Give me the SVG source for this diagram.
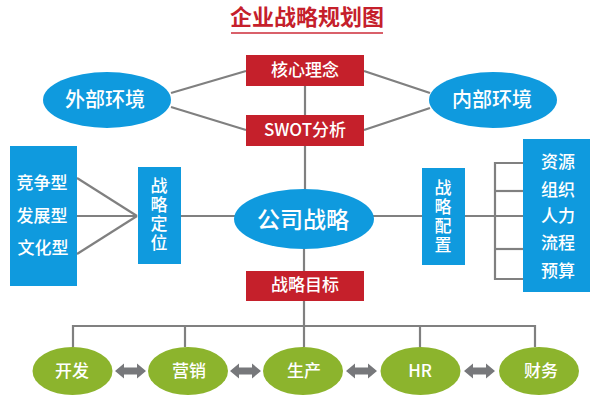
<svg xmlns="http://www.w3.org/2000/svg" width="600" height="400" viewBox="0 0 600 400">
<style>
text{font-family:"Noto Sans CJK SC","Liberation Sans",sans-serif;text-anchor:middle;fill:#fff}
.t{font-size:17px;font-weight:500}
.v{font-size:17px;font-weight:500;writing-mode:vertical-rl;letter-spacing:2px}
.e{font-size:20px;font-weight:500}
.s{font-size:17px;font-weight:500}
.red{fill:#c5202b}
.blue{fill:#0f9ade}
.green{fill:#8cb42d}
.c line,.c polyline{stroke:#808080;stroke-width:2.2;fill:none}
.a{fill:#77787b;stroke:none}
</style>
<defs><path id="dbl" class="a" d="M0 0l9-7.500v4h13v-4l9 7.500-9 7.500v-4H9v4z"/></defs>
<g class="c" id="connectors">
<line x1="171" y1="93" x2="246" y2="71"/>
<line x1="171" y1="107" x2="246" y2="130"/>
<line x1="364" y1="71" x2="430" y2="93"/>
<line x1="364" y1="130" x2="430" y2="108"/>
<line x1="305" y1="86" x2="305" y2="115"/>
<line x1="305" y1="146" x2="305" y2="190"/>
<line x1="304" y1="249" x2="304" y2="271"/>
<line x1="304" y1="301" x2="304" y2="347"/>
<line x1="77" y1="178" x2="137" y2="216"/>
<line x1="77" y1="216" x2="137" y2="216"/>
<line x1="77" y1="254" x2="137" y2="216"/>
<line x1="181" y1="216" x2="235" y2="216"/>
<line x1="373" y1="216" x2="422" y2="216"/>
<line x1="465" y1="216" x2="523" y2="216"/>
<line x1="495" y1="191" x2="523" y2="191"/>
<line x1="495" y1="249" x2="523" y2="249"/>
<polyline points="523,163 495,163 495,279 523,279"/>
<polyline points="73,347 73,326 535,326 535,347"/>
<line x1="185" y1="326" x2="185" y2="347"/>
<line x1="420" y1="326" x2="420" y2="347"/>
<use href="#dbl" x="115" y="371"/>
<use href="#dbl" x="230" y="371"/>
<use href="#dbl" x="346" y="371"/>
<use href="#dbl" x="464" y="371"/>
</g>
<g id="title"><text x="307" y="25" font-size="22" font-weight="700" style="fill:#c5202b">企业战略规划图</text><rect x="231" y="32" width="152" height="2" fill="#d9606a"/></g>
<g id="n1"><rect class="red" x="246" y="55" width="118" height="31"/><text class="t" x="305" y="76">核心理念</text></g>
<g id="n2"><rect class="red" x="246" y="115" width="118" height="31"/><text class="t" x="305" y="136">SWOT分析</text></g>
<g id="n3"><rect class="red" x="246" y="271" width="118" height="30"/><text class="t" x="305" y="291">战略目标</text></g>
<g id="n4"><ellipse class="blue" cx="107" cy="100" rx="64" ry="28"/><text class="e" x="105" y="107">外部环境</text></g>
<g id="n5"><ellipse class="blue" cx="493" cy="100" rx="64" ry="28"/><text class="e" x="492" y="107">内部环境</text></g>
<g id="n6"><ellipse class="blue" cx="304" cy="219" rx="70" ry="30"/><text x="303" y="228" font-size="23" font-weight="500">公司战略</text></g>
<g id="n7"><rect class="blue" x="10" y="146" width="67" height="140"/>
<text class="t" x="42" y="189">竞争型</text><text class="t" x="42" y="222">发展型</text><text class="t" x="43" y="254">文化型</text></g>
<g id="n8"><rect class="blue" x="138" y="167" width="43" height="97"/>
<text class="v" x="159" y="215">战略定位</text></g>
<g id="n9"><rect class="blue" x="422" y="168" width="43" height="97"/>
<text class="v" x="443" y="217">战略配置</text></g>
<g id="n10"><rect class="blue" x="523" y="139" width="67" height="153"/>
<text class="t" x="558" y="168">资源</text><text class="t" x="558" y="196">组织</text><text class="t" x="558" y="222">人力</text><text class="t" x="558" y="249">流程</text><text class="t" x="558" y="277">预算</text></g>
<g id="n11"><ellipse class="green" cx="72.500" cy="371" rx="40" ry="24"/><text class="s" x="72" y="377">开发</text></g>
<g id="n12"><ellipse class="green" cx="188" cy="371" rx="40" ry="24"/><text class="s" x="189" y="377">营销</text></g>
<g id="n13"><ellipse class="green" cx="303" cy="371" rx="40" ry="24"/><text class="s" x="304" y="377">生产</text></g>
<g id="n14"><ellipse class="green" cx="420.500" cy="371" rx="40" ry="24"/><text class="s" x="420" y="377">HR</text></g>
<g id="n15"><ellipse class="green" cx="539" cy="371" rx="40" ry="24"/><text class="s" x="541" y="377">财务</text></g>
</svg>
